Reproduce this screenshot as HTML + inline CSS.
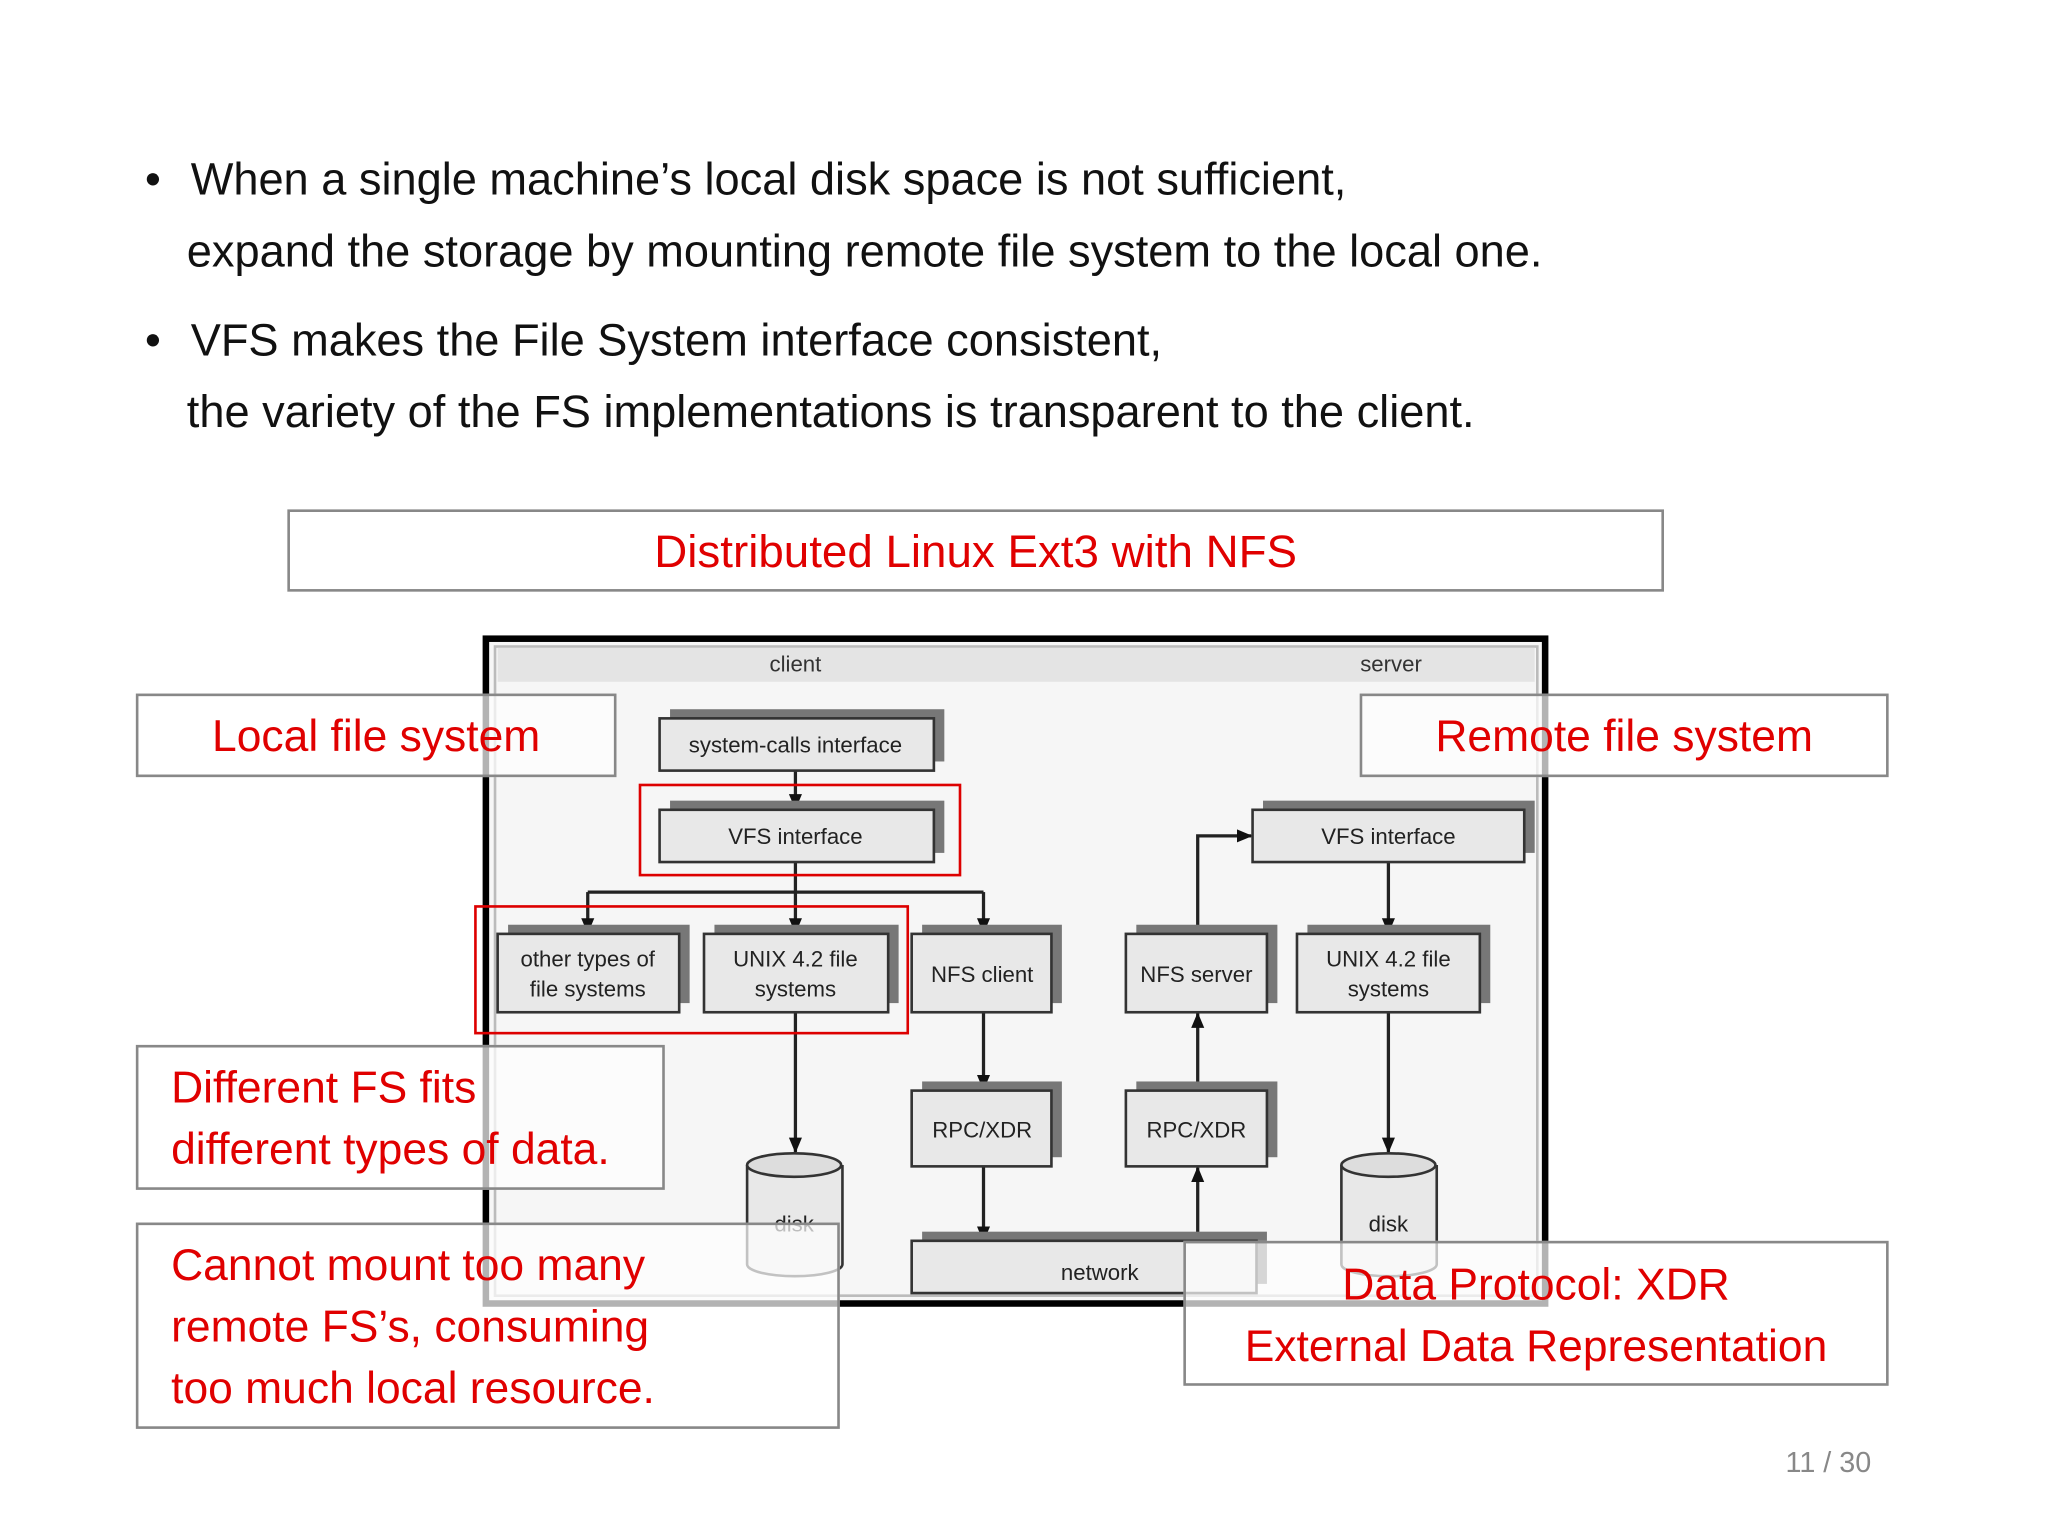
<!DOCTYPE html>
<html><head><meta charset="utf-8"><style>
html,body{margin:0;padding:0;background:#fff;width:2048px;height:1536px;overflow:hidden}
#s{position:absolute;left:0;top:0;width:1568px;height:1176px;transform:scale(1.30612);transform-origin:0 0;font-family:"Liberation Sans",sans-serif}
.t{position:absolute;font-size:34.6px;color:#111;white-space:nowrap}
.lb{position:absolute;border:2px solid #888;background:rgba(255,255,255,0.7);color:#e00000;font-size:34px;box-sizing:border-box;line-height:47px}
</style></head><body><div id="s">
<div class="t" style="left:111px;top:119px">•</div>
<div class="t" style="left:146px;top:119px">When a single machine’s local disk space is not sufficient,</div>
<div class="t" style="left:143px;top:174px">expand the storage by mounting remote file system to the local one.</div>
<div class="t" style="left:111px;top:242px">•</div>
<div class="t" style="left:146px;top:242px">VFS makes the File System interface consistent,</div>
<div class="t" style="left:143px;top:297px">the variety of the FS implementations is transparent to the client.</div>
<div class="lb" style="left:220px;top:390px;width:1054px;height:63px;text-align:center;line-height:62px;font-size:35px">Distributed Linux Ext3 with NFS</div>

<svg style="position:absolute;left:0;top:0" width="1568" height="1176" font-family="Liberation Sans,sans-serif">
<defs><marker id="a" markerUnits="userSpaceOnUse" markerWidth="12" markerHeight="12" refX="11" refY="6" orient="auto"><path d="M0,1 L12,6 L0,11z" fill="#111"/></marker></defs>
<rect x="372" y="489" width="811" height="509" fill="#f6f6f6" stroke="#000" stroke-width="5"/>
<rect x="379" y="495" width="798" height="497" fill="none" stroke="#bbb" stroke-width="2"/>
<rect x="381" y="496" width="794" height="26" fill="#e4e4e4"/>
<text x="609" y="514" font-size="17" text-anchor="middle" fill="#333">client</text>
<text x="1065" y="514" font-size="17" text-anchor="middle" fill="#333">server</text>
<g stroke="#222" stroke-width="2.5" fill="none">
<line x1="609" y1="590" x2="609" y2="619" marker-end="url(#a)"/>
<line x1="609" y1="660" x2="609" y2="683"/>
<line x1="450" y1="683" x2="753" y2="683"/>
<line x1="450" y1="683" x2="450" y2="714" marker-end="url(#a)"/>
<line x1="609" y1="683" x2="609" y2="714" marker-end="url(#a)"/>
<line x1="753" y1="683" x2="753" y2="714" marker-end="url(#a)"/>
<line x1="609" y1="775" x2="609" y2="882" marker-end="url(#a)"/>
<line x1="753" y1="775" x2="753" y2="834" marker-end="url(#a)"/>
<line x1="753" y1="893" x2="753" y2="950" marker-end="url(#a)"/>
<line x1="917" y1="950" x2="917" y2="894" marker-end="url(#a)"/>
<line x1="917" y1="835" x2="917" y2="776" marker-end="url(#a)"/>
<polyline points="917,715 917,640 958,640" marker-end="url(#a)"/>
<line x1="1063" y1="660" x2="1063" y2="714" marker-end="url(#a)"/>
<line x1="1063" y1="775" x2="1063" y2="882" marker-end="url(#a)"/>
</g>
<g font-size="17" fill="#222" text-anchor="middle">
<rect x="513" y="543" width="210" height="40" fill="#777"/><rect x="505" y="550" width="210" height="40" fill="#e8e8e8" stroke="#333" stroke-width="2"/><text x="609" y="576">system-calls interface</text>
<rect x="513" y="613" width="210" height="40" fill="#777"/><rect x="505" y="620" width="210" height="40" fill="#e8e8e8" stroke="#333" stroke-width="2"/><text x="609" y="646">VFS interface</text>
<rect x="967" y="613" width="208" height="40" fill="#777"/><rect x="959" y="620" width="208" height="40" fill="#e8e8e8" stroke="#333" stroke-width="2"/><text x="1063" y="646">VFS interface</text>
<rect x="389" y="708" width="139" height="60" fill="#777"/><rect x="381" y="715" width="139" height="60" fill="#e8e8e8" stroke="#333" stroke-width="2"/><text x="450" y="740">other types of</text><text x="450" y="763">file systems</text>
<rect x="547" y="708" width="141" height="60" fill="#777"/><rect x="539" y="715" width="141" height="60" fill="#e8e8e8" stroke="#333" stroke-width="2"/><text x="609" y="740">UNIX 4.2 file</text><text x="609" y="763">systems</text>
<rect x="1001" y="708" width="140" height="60" fill="#777"/><rect x="993" y="715" width="140" height="60" fill="#e8e8e8" stroke="#333" stroke-width="2"/><text x="1063" y="740">UNIX 4.2 file</text><text x="1063" y="763">systems</text>
<rect x="706" y="708" width="107" height="60" fill="#777"/><rect x="698" y="715" width="107" height="60" fill="#e8e8e8" stroke="#333" stroke-width="2"/><text x="752" y="752">NFS client</text>
<rect x="870" y="708" width="108" height="60" fill="#777"/><rect x="862" y="715" width="108" height="60" fill="#e8e8e8" stroke="#333" stroke-width="2"/><text x="916" y="752">NFS server</text>
<rect x="706" y="828" width="107" height="58" fill="#777"/><rect x="698" y="835" width="107" height="58" fill="#e8e8e8" stroke="#333" stroke-width="2"/><text x="752" y="871">RPC/XDR</text>
<rect x="870" y="828" width="108" height="58" fill="#777"/><rect x="862" y="835" width="108" height="58" fill="#e8e8e8" stroke="#333" stroke-width="2"/><text x="916" y="871">RPC/XDR</text>
<rect x="706" y="943" width="264" height="40" fill="#777"/><rect x="698" y="950" width="264" height="40" fill="#e8e8e8" stroke="#333" stroke-width="2"/><text x="842" y="980">network</text>
<path d="M572,892 L572,968 A36,9 0 0 0 645,968 L645,892" fill="#e8e8e8" stroke="#333" stroke-width="2"/><ellipse cx="608" cy="892" rx="36" ry="9" fill="#ddd" stroke="#333" stroke-width="2"/><text x="608" y="943">disk</text>
<path d="M1027,892 L1027,968 A36,9 0 0 0 1100,968 L1100,892" fill="#e8e8e8" stroke="#333" stroke-width="2"/><ellipse cx="1063" cy="892" rx="36" ry="9" fill="#ddd" stroke="#333" stroke-width="2"/><text x="1063" y="943">disk</text>
</g>
<rect x="490" y="601" width="245" height="69" fill="none" stroke="#d00" stroke-width="2"/>
<rect x="364" y="694" width="331" height="97" fill="none" stroke="#d00" stroke-width="2"/>
</svg>

<div class="lb" style="left:104px;top:531px;width:368px;height:64px;text-align:center;line-height:62px">Local file system</div>
<div class="lb" style="left:1041px;top:531px;width:405px;height:64px;text-align:center;line-height:62px">Remote file system</div>
<div class="lb" style="left:104px;top:800px;width:405px;height:111px;padding:8px 0 0 25px">Different FS fits<br>different types of data.</div>
<div class="lb" style="left:104px;top:936px;width:539px;height:158px;padding:8px 0 0 25px">Cannot mount too many<br>remote FS’s, consuming<br>too much local resource.</div>
<div class="lb" style="left:906px;top:950px;width:540px;height:111px;padding:9px 0 0 0;text-align:center">Data Protocol: XDR<br>External Data Representation</div>
<div style="position:absolute;left:1367px;top:1107px;font-size:22px;color:#888">11 / 30</div>
</div></body></html>
